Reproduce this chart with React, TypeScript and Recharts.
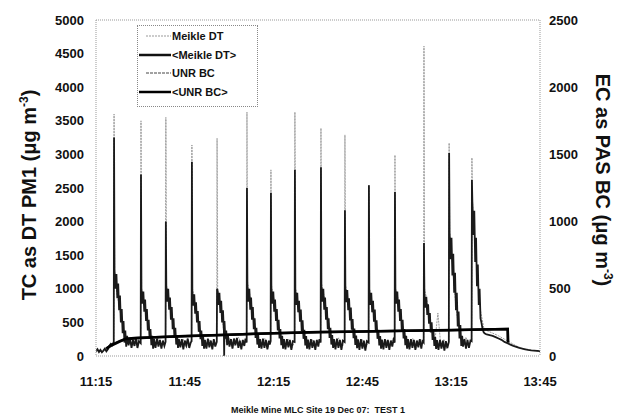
import React from 'react';
import { LineChart, Line, XAxis, YAxis, ReferenceLine } from 'recharts';

// ---- time axis (minutes after 11:15) ----
const xTicks = [0, 30, 60, 90, 120, 150];
const xTickLabels = ['11:15', '11:45', '12:15', '12:45', '13:15', '13:45'];
const leftTicks = [0, 500, 1000, 1500, 2000, 2500, 3000, 3500, 4000, 4500, 5000];
const rightTicks = [0, 500, 1000, 1500, 2000, 2500];

// ---- Meikle DT (left axis, µg m-3) ----
const meikleTimes = [
  0, 1, 2, 3, 4, 4.7, 5.3, 6.0,
  6.1, 6.3, 7, 8, 9, 10, 11, 12, 13, 14, 15.1,
  15.2, 15.4, 16, 17, 18, 19, 20, 21, 22, 23.5,
  23.6, 23.8, 24.5, 25.5, 26.5, 27.5, 28.5, 29.5, 30.5, 31.5, 32.3,
  32.4, 32.6, 33.3, 34.3, 35.3, 36.3, 37.3, 38.3, 39.3, 40.8,
  40.9, 41.1, 41.8, 42.6, 43.2, 43.3, 43.4, 44.2, 45.2, 46.2, 47.2, 48.2, 49.2, 50.0, 50.9,
  51.0, 51.2, 52, 53, 54, 55, 56, 57, 58, 59.0,
  59.1, 59.3, 60, 61, 62, 63, 64, 65, 66, 67.1,
  67.2, 67.4, 68, 69, 70, 71, 72, 73, 74, 75, 75.9,
  76.0, 76.2, 77, 78, 79, 80, 81, 82, 83, 84.0,
  84.1, 84.3, 85, 86, 87, 88, 89, 90, 91, 92.1,
  92.2, 92.4, 93, 94, 95, 96, 97, 98, 99, 100, 100.9,
  101.0, 101.2, 102, 103, 104, 105, 106, 107, 108, 109, 110.7,
  110.8, 111.0, 111.7, 112.5, 113.5, 114.5, 115.5, 116.5, 117.5, 118.5, 119.2,
  119.3, 119.5, 120.2, 121, 122, 123, 124, 125, 126, 126.9,
  127.0, 127.2, 128, 129, 130, 131, 132, 134, 136, 138, 140, 142, 144, 146, 148, 150,
];
const meikleDT = [
  70, 90, 60, 100, 80, 160, 190, 210,
  3600, 1250, 950, 700, 450, 280, 200, 260, 150, 230, 180,
  3500, 1000, 850, 600, 380, 250, 180, 260, 140, 220,
  3550, 1050, 900, 620, 400, 230, 160, 250, 120, 200, 240,
  3140, 1000, 820, 560, 360, 210, 120, 240, 160, 220,
  3240, 1000, 850, 600, 330, 330, 330, 180, 260, 120, 210, 280, 150, 230, 200,
  3630, 1100, 900, 640, 400, 230, 140, 260, 110, 220,
  2770, 1050, 880, 620, 380, 220, 150, 250, 100, 210,
  3630, 1000, 860, 600, 370, 210, 130, 250, 110, 240, 200,
  3390, 1080, 900, 650, 400, 230, 140, 270, 110, 220,
  3290, 1050, 880, 620, 390, 220, 130, 250, 100, 210,
  2540, 1000, 850, 600, 370, 210, 150, 240, 120, 230, 200,
  2990, 1000, 860, 600, 380, 220, 140, 260, 100, 230, 210,
  4610, 1000, 850, 600, 380, 220, 640, 150, 250, 110, 220,
  3170, 1850, 1500, 1000, 600, 330, 200, 280, 150, 240,
  2950, 2300, 1700, 1100, 650, 420, 380, 340, 300, 250, 200, 150, 110, 90, 80, 75,
];

// ---- UNR BC (right axis, µg m-3) ----
const unrTimes = [
  0, 0.5, 1, 1.5, 2, 2.5, 3, 3.5, 4, 4.5, 5, 5.5, 6.0,
  6.1, 6.25, 6.6, 6.9, 7.2, 7.5, 7.8, 8.1, 8.4, 8.7, 9.0, 9.3, 9.6, 9.9, 10.2, 10.5, 11.0, 11.5, 12.0, 12.5, 13.0, 13.5, 14.0, 14.5, 15.1,
  15.2, 15.35, 15.7, 16.0, 16.3, 16.6, 16.9, 17.2, 17.5, 17.8, 18.1, 18.4, 18.7, 19.0, 19.3, 19.6, 20.1, 20.6, 21.1, 21.6, 22.1, 22.6, 23.1, 23.5,
  23.6, 23.75, 24.1, 24.4, 24.7, 25.0, 25.3, 25.6, 25.9, 26.2, 26.5, 26.8, 27.1, 27.4, 27.7, 28.0, 28.5, 29.0, 29.5, 30.0, 30.5, 31.0, 31.5, 32.0, 32.3,
  32.4, 32.55, 32.9, 33.2, 33.5, 33.8, 34.1, 34.4, 34.7, 35.0, 35.3, 35.6, 35.9, 36.2, 36.5, 36.8, 37.3, 37.8, 38.3, 38.8, 39.3, 39.8, 40.3, 40.8,
  40.9, 41.05, 41.4, 41.7, 42.0, 42.3, 42.6, 42.9, 43.2, 43.3, 43.4, 43.7, 44.0, 44.3, 44.6, 45.1, 45.6, 46.1, 46.6, 47.1, 47.6, 48.1, 48.6, 49.1, 49.6, 50.1, 50.5, 50.9,
  51.0, 51.15, 51.5, 51.8, 52.1, 52.4, 52.7, 53.0, 53.3, 53.6, 53.9, 54.2, 54.5, 54.8, 55.1, 55.4, 55.9, 56.4, 56.9, 57.4, 57.9, 58.4, 58.7, 59.0,
  59.1, 59.25, 59.6, 59.9, 60.2, 60.5, 60.8, 61.1, 61.4, 61.7, 62.0, 62.3, 62.6, 62.9, 63.2, 63.5, 64.0, 64.5, 65.0, 65.5, 66.0, 66.5, 67.1,
  67.2, 67.35, 67.7, 68.0, 68.3, 68.6, 68.9, 69.2, 69.5, 69.8, 70.1, 70.4, 70.7, 71.0, 71.3, 71.6, 72.1, 72.6, 73.1, 73.6, 74.1, 74.6, 75.1, 75.5, 75.9,
  76.0, 76.15, 76.5, 76.8, 77.1, 77.4, 77.7, 78.0, 78.3, 78.6, 78.9, 79.2, 79.5, 79.8, 80.1, 80.4, 80.9, 81.4, 81.9, 82.4, 82.9, 83.4, 84.0,
  84.1, 84.25, 84.6, 84.9, 85.2, 85.5, 85.8, 86.1, 86.4, 86.7, 87.0, 87.3, 87.6, 87.9, 88.2, 88.5, 89.0, 89.5, 90.0, 90.5, 91.0, 91.5, 92.1,
  92.2, 92.35, 92.7, 93.0, 93.3, 93.6, 93.9, 94.2, 94.5, 94.8, 95.1, 95.4, 95.7, 96.0, 96.3, 96.6, 97.1, 97.6, 98.1, 98.6, 99.1, 99.6, 100.1, 100.5, 100.9,
  101.0, 101.15, 101.5, 101.8, 102.1, 102.4, 102.7, 103.0, 103.3, 103.6, 103.9, 104.2, 104.5, 104.8, 105.1, 105.4, 105.9, 106.4, 106.9, 107.4, 107.9, 108.4, 108.9, 109.4, 109.9, 110.3, 110.7,
  110.8, 110.95, 111.3, 111.6, 111.9, 112.2, 112.5, 112.8, 113.1, 113.4, 113.7, 114.0, 114.3, 114.6, 114.9, 115.2, 115.7, 116.2, 116.7, 117.2, 117.7, 118.2, 118.7, 119.2,
  119.3, 119.45, 119.8, 120.1, 120.4, 120.7, 121.0, 121.3, 121.6, 121.9, 122.2, 122.5, 122.8, 123.1, 123.4, 123.7, 124.0, 124.5, 125.0, 125.5, 126.0, 126.5, 126.9,
  127.0, 127.15, 127.5, 127.8, 128.1, 128.4, 128.7, 129.0, 129.3, 129.6, 129.9, 130.2, 130.6, 131.0, 131.5, 132.0, 133, 134, 135, 136, 137, 138, 139, 140, 141, 142, 143, 144, 145, 146, 147, 148, 149, 150,
];
const unrBC = [
  35, 50, 30, 45, 28, 40, 55, 35, 50, 75, 90, 80, 105,
  1625, 640, 500, 610, 430, 540, 340, 450, 250, 350, 170, 260, 100, 190, 70, 150, 80, 130, 60, 120, 75, 135, 60, 110, 95,
  1350, 500, 390, 480, 330, 420, 260, 350, 190, 270, 130, 200, 80, 150, 55, 125, 60, 130, 70, 120, 55, 115, 75, 105,
  1000, 520, 405, 500, 345, 435, 270, 365, 200, 280, 135, 210, 85, 155, 60, 125, 65, 125, 50, 115, 80, 130, 60, 100, 110,
  1445, 480, 375, 460, 315, 400, 250, 335, 180, 260, 125, 190, 75, 145, 55, 120, 55, 130, 65, 115, 50, 125, 70, 105,
  500, 490, 380, 470, 320, 410, 250, 340, 190, 0, 260, 130, 190, 80, 150, 70, 125, 55, 130, 80, 135, 60, 115, 50, 120, 75, 130, 100,
  1250, 520, 405, 500, 345, 435, 270, 365, 200, 280, 135, 210, 85, 155, 60, 125, 55, 130, 60, 120, 50, 115, 85, 110,
  1215, 500, 390, 480, 330, 420, 260, 350, 190, 270, 130, 200, 80, 150, 55, 125, 50, 125, 65, 120, 45, 110, 105,
  1385, 490, 380, 470, 325, 410, 255, 345, 185, 265, 128, 195, 78, 148, 55, 122, 50, 125, 60, 115, 45, 120, 70, 125, 100,
  1405, 520, 405, 500, 345, 435, 270, 365, 200, 280, 135, 210, 85, 155, 60, 125, 50, 130, 60, 120, 45, 115, 105,
  1085, 510, 400, 490, 340, 430, 265, 360, 195, 275, 132, 205, 82, 152, 58, 124, 45, 125, 55, 115, 40, 110, 100,
  1270, 490, 380, 470, 325, 410, 255, 345, 185, 265, 128, 195, 78, 148, 55, 122, 50, 125, 60, 120, 45, 115, 70, 120, 100,
  1220, 500, 390, 480, 330, 420, 260, 350, 190, 270, 130, 200, 80, 150, 55, 125, 50, 125, 60, 120, 45, 115, 65, 125, 55, 110, 100,
  840, 460, 360, 440, 305, 385, 240, 320, 175, 250, 120, 185, 75, 140, 52, 118, 45, 120, 55, 115, 40, 110, 60, 105,
  1510, 915, 720, 880, 600, 760, 470, 620, 340, 470, 220, 330, 130, 230, 75, 150, 70, 125, 55, 120, 60, 115, 110,
  1310, 1150, 900, 1080, 700, 880, 520, 680, 380, 500, 280, 250, 200, 175, 165, 160, 155, 150, 140, 130, 120, 105, 95, 85, 75, 68, 60, 55, 50, 45, 42, 40, 38, 36,
];

// ---- running averages ----
const avgTimes = [3.5, 5, 8, 10, 14, 20, 30, 45, 60, 75, 90, 105, 120, 130, 139.1, 139.2];
const meikleAvg = [110, 150, 215, 250, 265, 280, 295, 315, 340, 355, 365, 375, 385, 395, 400, 200];
const unrAvg = [55, 80, 110, 128, 135, 140, 148, 158, 170, 178, 183, 188, 193, 198, 200, 100];

const meikleData = meikleTimes.map((t, i) => ({ t, meikle: meikleDT[i] }));
const unrData = unrTimes.map((t, i) => ({ t, unr: unrBC[i] }));
const avgData = avgTimes.map((t, i) => ({ t, meikleAvg: meikleAvg[i], unrAvg: unrAvg[i] }));

const FONT = '"Liberation Sans", Arial, sans-serif';
const tickStyle = { fontFamily: FONT, fontSize: 13, fontWeight: 700, fill: '#111' };
const axisLine = { stroke: '#999', strokeDasharray: '1 1' };

const legendItems = [
  { label: 'Meikle DT', stroke: '#999', width: 1, dash: '2 1' },
  { label: '<Meikle DT>', stroke: '#111', width: 2.5, dash: undefined },
  { label: 'UNR BC', stroke: '#444', width: 1, dash: '3 1' },
  { label: '<UNR BC>', stroke: '#000', width: 2.5, dash: undefined },
];

export default function App() {
  return (
    <div style={{ position: 'absolute', left: 0, top: 0, width: 623, height: 418, background: '#fff', fontFamily: FONT }}>
      <LineChart width={623} height={418} margin={{ top: 20, right: 30, bottom: 32, left: 40 }}>
        <XAxis
          type="number"
          dataKey="t"
          domain={[0, 150]}
          ticks={xTicks}
          tickFormatter={(v) => xTickLabels[xTicks.indexOf(v)]}
          tick={tickStyle}
          tickLine={false}
          tickSize={0}
          tickMargin={21}
          axisLine={axisLine}
          height={30}
          allowDataOverflow
        />
        <YAxis
          yAxisId="left"
          domain={[0, 5000]}
          ticks={leftTicks}
          tick={tickStyle}
          tickLine={false}
          tickSize={0}
          tickMargin={12}
          axisLine={axisLine}
          width={56}
          interval={0}
        />
        <YAxis
          yAxisId="right"
          orientation="right"
          domain={[0, 2500]}
          ticks={rightTicks}
          tick={{ ...tickStyle, textAnchor: 'start' }}
          tickLine={false}
          tickSize={0}
          tickMargin={9}
          axisLine={axisLine}
          width={53}
          interval={0}
        />
        <ReferenceLine yAxisId="left" y={5000} stroke="#999" strokeDasharray="1 1" />
        <Line yAxisId="left" data={meikleData} dataKey="meikle" type="linear" stroke="#9a9a9a" strokeWidth={1} strokeDasharray="2 1" dot={false} isAnimationActive={false} />
        <Line yAxisId="right" data={unrData} dataKey="unr" type="linear" stroke="#1a1a1a" strokeWidth={1.8} dot={false} isAnimationActive={false} />
        <Line yAxisId="left" data={avgData} dataKey="meikleAvg" type="linear" stroke="#111" strokeWidth={2.5} dot={false} isAnimationActive={false} />
        <Line yAxisId="right" data={avgData} dataKey="unrAvg" type="linear" stroke="#000" strokeWidth={2.5} dot={false} isAnimationActive={false} />
      </LineChart>

      {/* Legend */}
      <div style={{ position: 'absolute', left: 137, top: 25, width: 121, height: 82, border: '1px dotted #888', background: '#fff', boxSizing: 'border-box' }}>
        {legendItems.map((it, i) => (
          <div key={it.label} style={{ position: 'absolute', left: 0, top: 2 + i * 18.7, height: 16, display: 'flex', alignItems: 'center' }}>
            <svg width={34} height={16} style={{ display: 'block' }}>
              <line x1={i % 2 === 1 ? 1 : 8} y1={8} x2={33} y2={8} stroke={it.stroke} strokeWidth={it.width} strokeDasharray={it.dash} />
            </svg>
            <span style={{ fontSize: 11, fontWeight: 700, color: '#111', whiteSpace: 'nowrap' }}>{it.label}</span>
          </div>
        ))}
      </div>

      {/* Left axis title */}
      <div style={{ position: 'absolute', left: 29, top: 195, transform: 'translate(-50%, -50%) rotate(-90deg)', fontSize: 20, fontWeight: 700, color: '#111', whiteSpace: 'nowrap' }}>
        TC as DT PM1 (μg m<sup style={{ fontSize: 12 }}>-3</sup>)
      </div>

      {/* Right axis title */}
      <div style={{ position: 'absolute', left: 603, top: 180, transform: 'translate(-50%, -50%) rotate(90deg)', fontSize: 20, fontWeight: 700, color: '#111', whiteSpace: 'nowrap' }}>
        EC as PAS BC (μg m<sup style={{ fontSize: 12 }}>-3</sup>)
      </div>

      {/* Bottom caption */}
      <div style={{ position: 'absolute', left: 318, top: 410, transform: 'translate(-50%, -50%)', fontSize: 9, fontWeight: 700, color: '#111', whiteSpace: 'pre' }}>
        {'Meikle Mine MLC Site 19 Dec 07:  TEST 1'}
      </div>
    </div>
  );
}
